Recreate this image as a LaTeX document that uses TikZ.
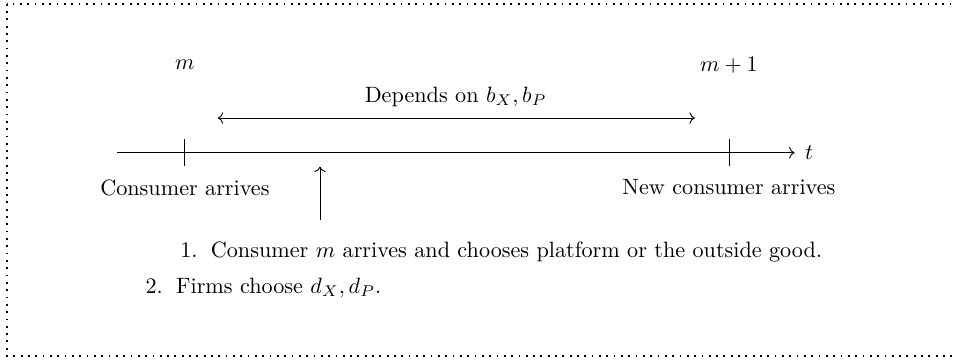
\documentclass[tikz,border=0pt]{standalone}
\usepackage{amsmath,amssymb}
\usetikzlibrary{arrows.meta,positioning,calc}
\tikzset{
	tlabel/.style={inner sep=1pt},
	tick/.style={thin},
	tarr/.style={->, thin},
	itemtxt/.style={anchor=west, inner sep=0pt},
	frame/.style={line width=0.8pt, dash pattern=on 0.8pt off 2.5pt}
}

\begin{document}
\begin{tikzpicture}[x=1cm, y=1cm]
		\useasboundingbox (-2.93,2.42) rectangle (12.17,-3.30);
		\draw[frame] (-2.82,2.36) rectangle (13,-3.22);
		% time axis
		\coordinate (T0) at (-1.08,0);
		\coordinate (T1) at (9.66,0);
		\draw[tarr] (T0) -- (T1) node[right, inner sep=4.5pt] (tl) {$t$};
		% arrivals
		\coordinate (Aup) at (0,0.21);
		\coordinate (Adn) at (0,-0.21);
		\coordinate (Bup) at (8.62,0.21);
		\coordinate (Bdn) at (8.62,-0.21);
		\draw[tick] (Aup) -- (Adn);
		\draw[tick] (Bup) -- (Bdn);
		\node[tlabel] (mA) at (0,1.39) {$m$};
		\node[tlabel] (mB) at (8.62,1.39) {$m+1$};
		\node[tlabel] (cA) at (0,-0.55) {Consumer arrives};
		\node[tlabel] (cB) at (8.62,-0.55) {New consumer arrives};
		% dependence interval
		\coordinate (D0) at (0.52,0.55);
		\coordinate (D1) at (8.08,0.55);
		\draw[<->, thin] (D0) -- (D1);
		\node[tlabel] (dep) at (4.29,0.89) {Depends on $b_X, b_P$};
		% pointer to decision time
		\coordinate (P0) at (2.14,-1.06);
		\coordinate (P1) at (2.14,-0.22);
		\draw[tarr] (P0) -- (P1);
		\node[itemtxt] (s1) at (-0.08,-1.58)
			{1.\hspace{0.6em}Consumer $m$ arrives and chooses platform or the outside good.};
		\node[itemtxt] (s2) at (-0.63,-2.14)
			{2.\hspace{0.6em}Firms choose $d_X, d_P$.};
	\end{tikzpicture}
\end{document}
